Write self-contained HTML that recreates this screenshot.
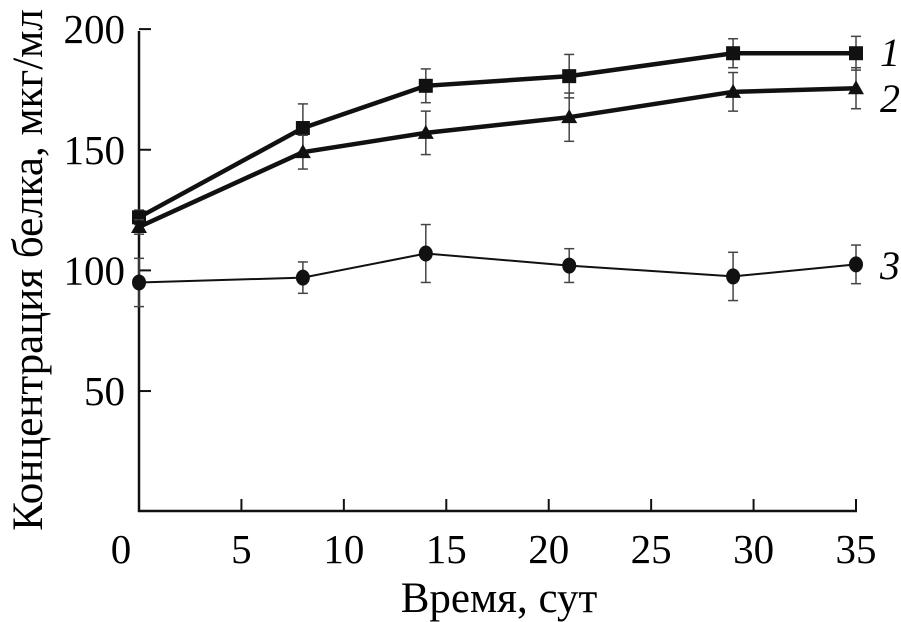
<!DOCTYPE html>
<html><head><meta charset="utf-8"><style>
html,body{margin:0;padding:0;background:#fff;}
svg{display:block;font-family:"Liberation Serif",serif;}
</style></head><body>
<svg width="901" height="622" viewBox="0 0 901 622">
<g id="axes"></g><g id="plot"></g>
</svg>
<script>
const days=[0,8,14,21,29,35];
const s1=[122,159,176.5,180.5,190,190];
const e1=[3,10,7,9,6,7];
const s2=[118,149,157,163.5,174,175.5];
const e2=[3,7,9,10,8,8.5];
const s3=[95,97,107,102,97.5,102.5];
const e3=[10,6.5,12,7,10,8];
const xTicks=[0,5,10,15,20,25,30,35];
const yTicks=[50,100,150,200];
const NS='http://www.w3.org/2000/svg';
const X=d=>139+d*(856-139)/35;
const Y=v=>511.7-v*2.413;
function mk(t,a,p){const e=document.createElementNS(NS,t);for(const k in a)e.setAttribute(k,a[k]);p.appendChild(e);return e;}
const ax=document.getElementById('axes'),pl=document.getElementById('plot');
let l=mk('line',{x1:139,y1:31,x2:139,y2:512,stroke:'#111','stroke-width':2.5},ax);


l=mk('line',{x1:138,y1:511,x2:857,y2:511,stroke:'#111','stroke-width':2.5},ax);


xTicks.forEach(t=>{
 const x=X(t);
 const tk=mk('line',{x1:x,y1:511,x2:x,y2:499,stroke:'#111','stroke-width':2},ax);
 
 
 const tx=mk('text',{x:t===0?x-18:x,y:563,'text-anchor':'middle','font-size':41},ax);tx.textContent=t;
 
 
});
yTicks.forEach(t=>{
 const y=Y(t);
 const tk=mk('line',{x1:139,y1:y,x2:151,y2:y,stroke:'#111','stroke-width':2},ax);
 
 
 const tx=mk('text',{x:125,y:y+14,'text-anchor':'end','font-size':41},ax);tx.textContent=t;
 
 
});
let t=mk('text',{x:499,y:612,'text-anchor':'middle','font-size':43},ax);t.textContent='Время, сут';


t=mk('text',{x:0,y:0,'text-anchor':'middle','font-size':43,transform:'translate(42,270) rotate(-90)'},ax);t.textContent='Концентрация белка, мкг/мл';


function series(vals,errs,w,marker,name,label,ly){
 const g=mk('g',{},pl);
 
 
 vals.forEach((v,i)=>{
  const x=X(days[i]),yt=Y(v+errs[i]),yb=Y(v-errs[i]);
  mk('line',{x1:x,y1:yt,x2:x,y2:yb,stroke:'#444','stroke-width':1.5},g);
  mk('line',{x1:x-5,y1:yt,x2:x+5,y2:yt,stroke:'#444','stroke-width':1.5},g);
  mk('line',{x1:x-5,y1:yb,x2:x+5,y2:yb,stroke:'#444','stroke-width':1.5},g);
 });
 const pts=vals.map((v,i)=>X(days[i])+','+Y(v)).join(' ');
 const pln=mk('polyline',{points:pts,fill:'none',stroke:'#111','stroke-width':w},g);
 
 
 vals.forEach((v,i)=>{
  const x=X(days[i]),y=Y(v);let m;
  if(marker==='sq')m=mk('rect',{x:x-7,y:y-7,width:14,height:14,fill:'#111'},g);
  else if(marker==='tri')m=mk('polygon',{points:`${x},${y-8} ${x-8},${y+6} ${x+8},${y+6}`,fill:'#111'},g);
  else m=mk('ellipse',{cx:x,cy:y,rx:7,ry:8,fill:'#111'},g);
  
  
 });
 const lb=mk('text',{x:880,y:ly,'font-size':40,'font-style':'italic'},pl);lb.textContent=label;
 
 
}
series(s1,e1,4.5,'sq','series-1','1',66);
series(s2,e2,4.5,'tri','series-2','2',112);
series(s3,e3,2,'circ','series-3','3',279);
</script>
</body></html>
